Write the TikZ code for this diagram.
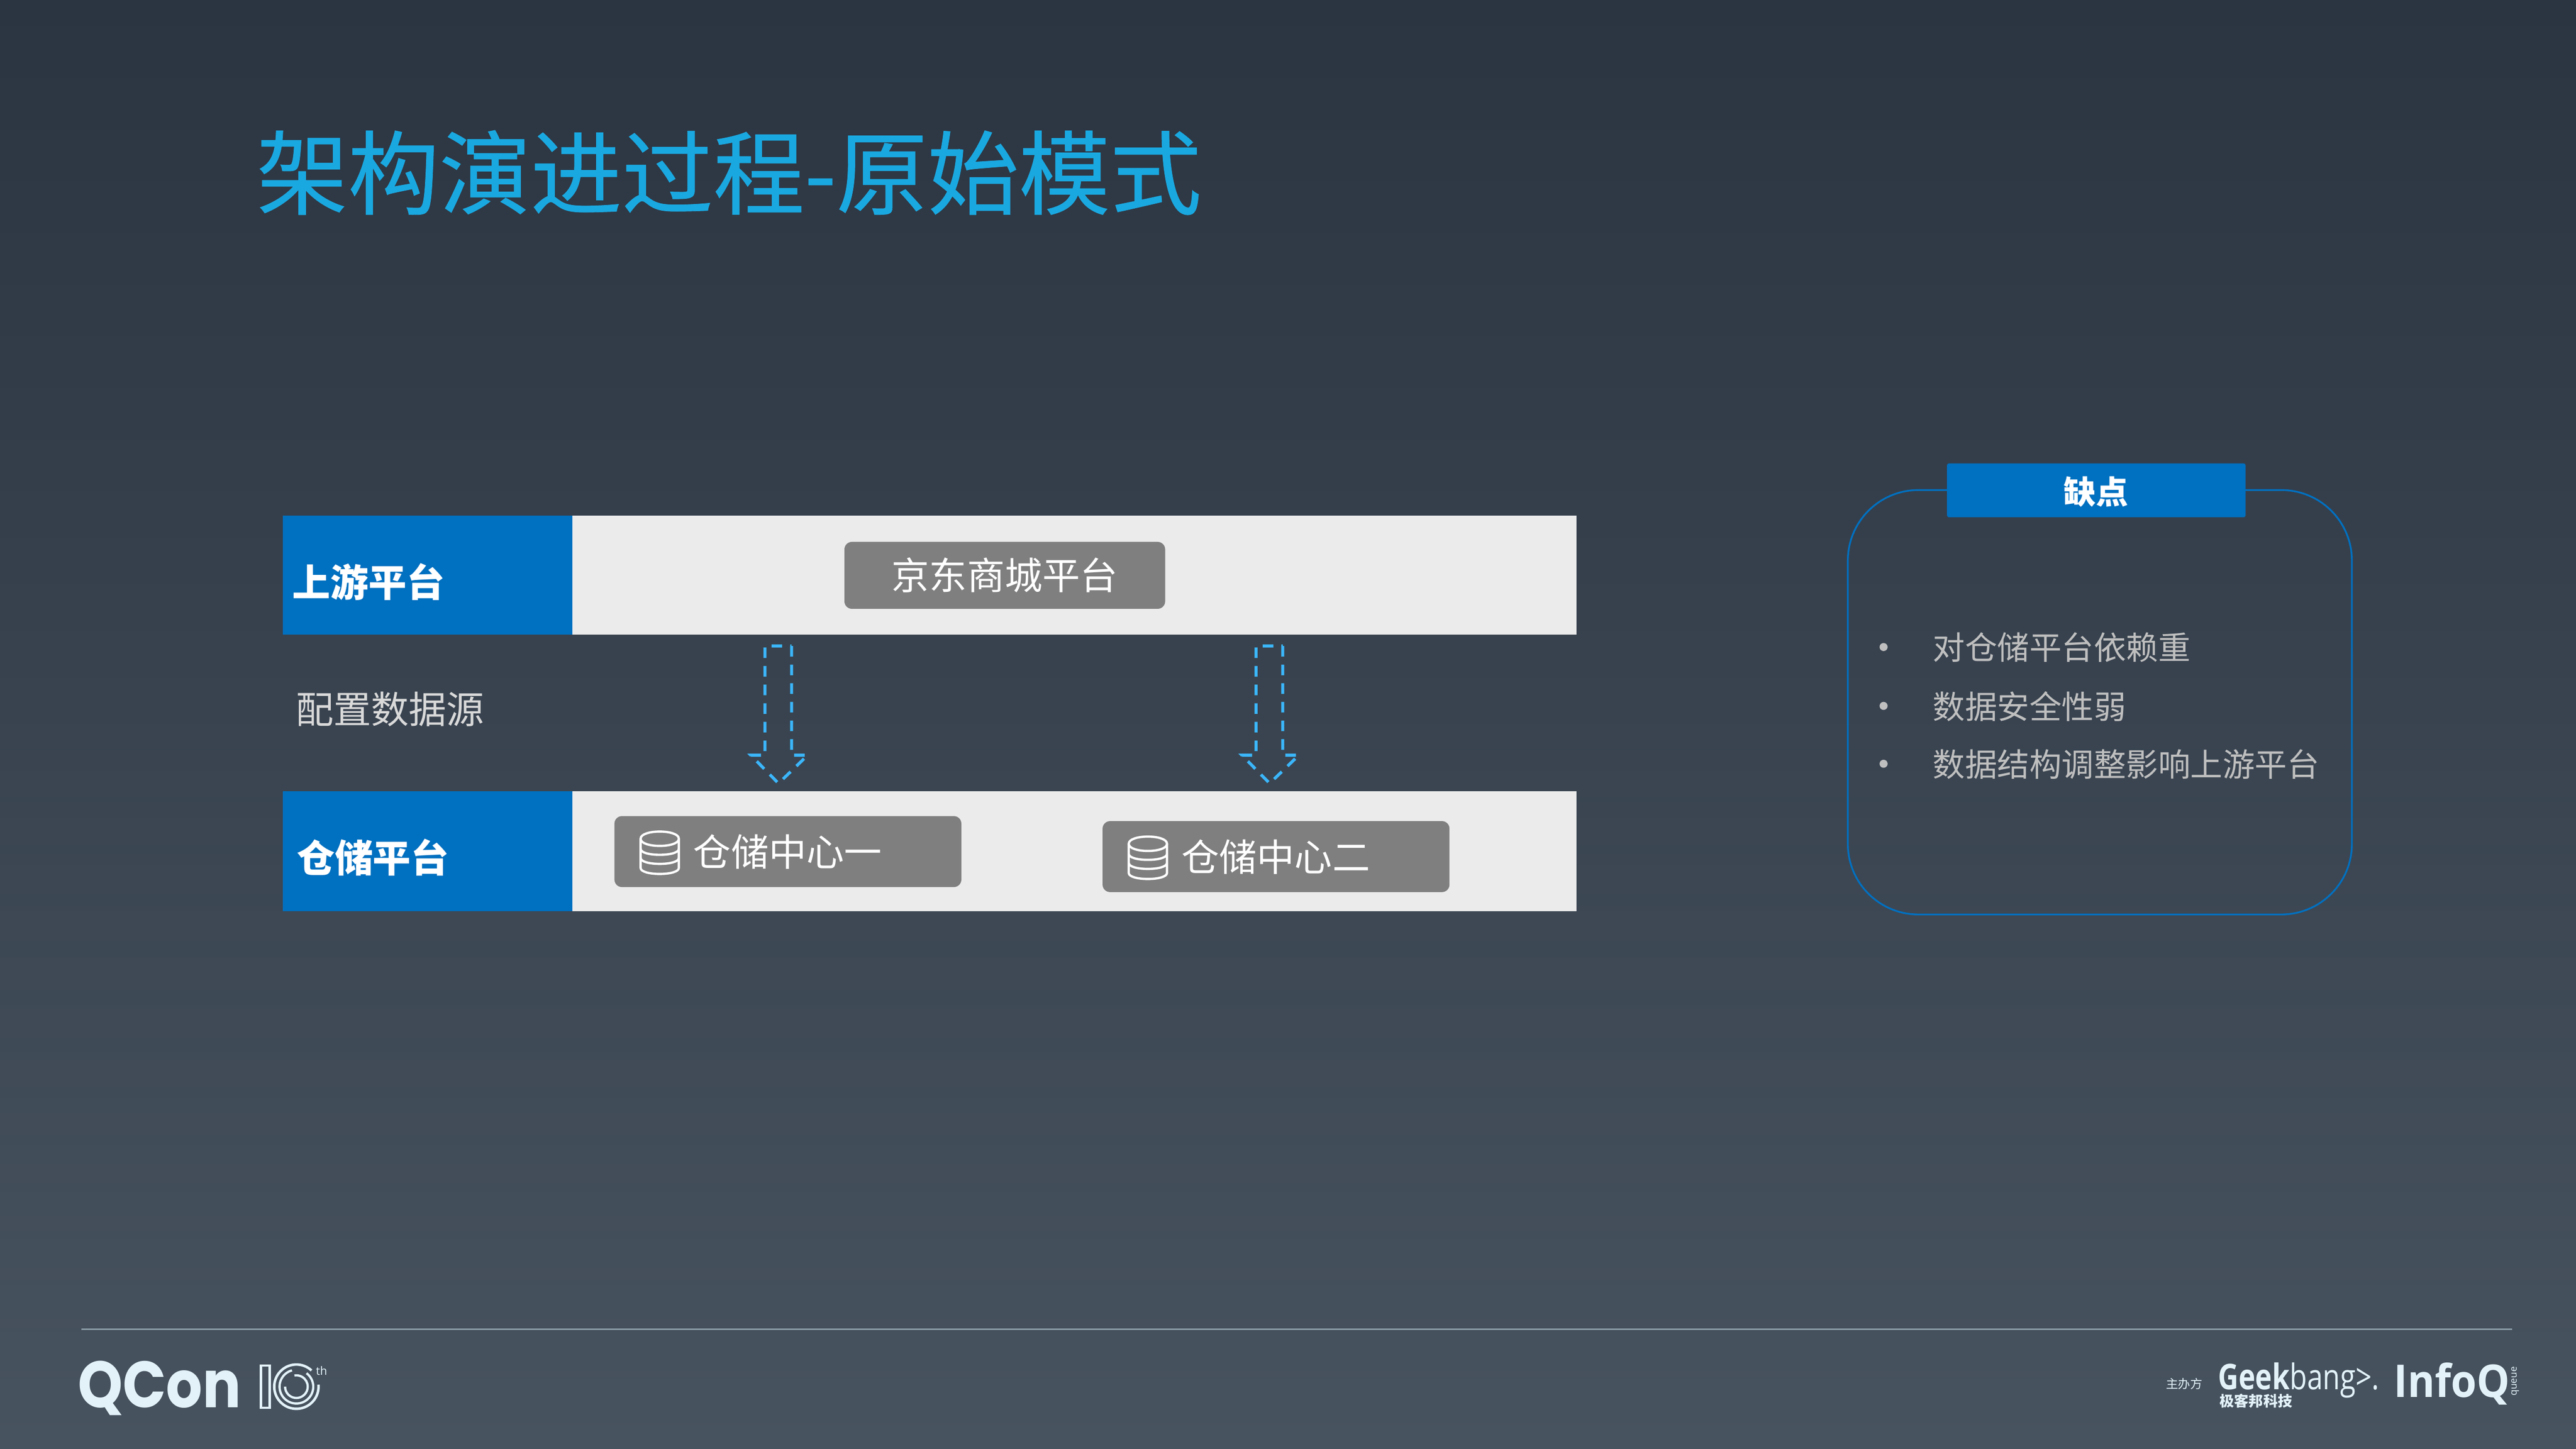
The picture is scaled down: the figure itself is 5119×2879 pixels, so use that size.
\documentclass[tikz,border=0pt]{standalone}
\usepackage{fontspec}
\setmainfont{Noto Sans CJK SC}
\newfontfamily\logofont{Poppins}
\newfontfamily\logosans{Open Sans}
\usetikzlibrary{positioning,calc}
\definecolor{bgtop}{HTML}{2B3441}
\definecolor{bgbot}{HTML}{47535F}
\definecolor{titleblue}{HTML}{1AA8E0}
\definecolor{barblue}{HTML}{0070C0}
\definecolor{bargrey}{HTML}{EBEBEB}
\definecolor{boxgrey}{HTML}{7F7F7F}
\definecolor{arrowblue}{HTML}{3BB6FB}
\definecolor{softtext}{HTML}{BFBFBF}
\definecolor{labeltext}{HTML}{D9D9D9}
\definecolor{rulecol}{HTML}{8A9BA5}
\definecolor{logocol}{HTML}{E3F2F9}
\newcommand{\fs}[1]{\fontsize{#1pt}{#1pt}\selectfont}
\tikzset{
  every node/.style={inner sep=0pt,outer sep=0pt},
  bar/.style={fill=bargrey,draw=none,anchor=north west,minimum width=25.69cm},
  bluelabel/.style={fill=barblue,draw=none,anchor=north west,minimum width=5.75cm},
  greybox/.style={fill=boxgrey,draw=none,rounded corners=0.15cm,anchor=north west},
  boldlabel/.style={text=white,font=\bfseries\fs{21.5},anchor=west},
  boxtext/.style={text=white,font=\fs{21.3},anchor=west},
  bullettext/.style={text=softtext,font=\fs{18.2},anchor=west},
  bulletdot/.style={circle,fill=softtext,minimum size=0.16cm},
  blockarrow/.style={draw=arrowblue,line width=0.06cm,dash pattern=on 0.21cm off 0.16cm,miter limit=10},
  dbicon/.style={draw=white,line width=0.045cm},
  ringmark/.style={draw=logocol,line width=0.045cm},
  logotext/.style={text=logocol,anchor=base west},
}
\begin{document}
\begin{tikzpicture}[x=0.01cm,y=-0.01cm]
\useasboundingbox (0,0) rectangle (5119,2879);
\shade[top color=bgtop,bottom color=bgbot,shading angle=0] (0,0) rectangle (5119,2879);

% title
\node[anchor=west,text=titleblue,font=\addfontfeature{FakeBold=0.5}\fs{51.6}] (title) at (510,343) {架构演进过程-原始模式};

% upper bar
\node[bar,minimum height=2.36cm] (upbar) at (562,1025) {};
\node[bluelabel,minimum height=2.36cm] (upblue) at (562,1025) {};
\node[boldlabel] (uplabel) at (581,1156) {上游平台};
\node[greybox,minimum width=6.37cm,minimum height=1.33cm] (jdbox) at (1678,1077) {};
\node[text=white,font=\fs{21.3}] (jdtext) at (jdbox.center) {京东商城平台};

% middle label
\node[anchor=west,text=labeltext,font=\fs{21.3}] (midlabel) at (588,1410) {配置数据源};

% lower bar
\node[bar,minimum height=2.38cm] (lowbar) at (562,1573) {};
\node[bluelabel,minimum height=2.38cm] (lowblue) at (562,1573) {};
\node[boldlabel] (lowlabel) at (590,1704) {仓储平台};

% warehouse boxes
\node[greybox,minimum width=6.89cm,minimum height=1.41cm] (wh1) at (1221,1622) {};
\node[boxtext] (wh1text) at (1378,1693) {仓储中心一};
\node[greybox,minimum width=6.89cm,minimum height=1.41cm] (wh2) at (2191,1632) {};
\node[boxtext] (wh2text) at (2348,1703) {仓储中心二};

% database icons
\foreach \ox/\oy in {0/0,970/10}{
\begin{scope}[shift={(\ox,\oy)}]
  \draw[dbicon] (1273,1667) .. controls (1273,1648) and (1349,1648) .. (1349,1667)
     .. controls (1349,1686) and (1273,1686) .. cycle;
  \draw[dbicon] (1273,1667) -- (1273,1725) .. controls (1273,1741) and (1349,1741) .. (1349,1725) -- (1349,1667);
  \draw[dbicon] (1273,1687) .. controls (1273,1703) and (1349,1703) .. (1349,1687);
  \draw[dbicon] (1273,1705) .. controls (1273,1721) and (1349,1721) .. (1349,1705);
\end{scope}}

% block arrows
\foreach \ox in {0,976}{
\begin{scope}[shift={(\ox,0)}]
  \draw[blockarrow] (1573,1284) -- (1573,1501) -- (1605,1501) -- (1547,1557) -- (1492,1501) -- (1520,1501) -- (1520,1284) -- (1573,1284);
\end{scope}}

% drawbacks panel
\node[draw=barblue,line width=0.035cm,rounded corners=1.4cm,anchor=north west,minimum width=10.01cm,minimum height=8.43cm] (panel) at (3672,974) {};
\node[fill=barblue,rounded corners=0.04cm,anchor=north west,minimum width=5.93cm,minimum height=1.07cm] (panelhead) at (3869,921) {};
\node[text=white,font=\bfseries\fs{18.2}] (paneltitle) at (4165,977) {缺点};

\node[bulletdot] (b1) at (3743,1286) {};
\node[bullettext] (t1) at (3841,1287) {对仓储平台依赖重};
\node[bulletdot] (b2) at (3743,1403) {};
\node[bullettext] (t2) at (3841,1404) {数据安全性弱};
\node[bulletdot] (b3) at (3743,1518) {};
\node[bullettext] (t3) at (3841,1519) {数据结构调整影响上游平台};

% footer rule
\coordinate (ruleL) at (162,2642);
\coordinate (ruleR) at (4992,2642);
\draw[rulecol,line width=0.035cm] (ruleL) -- (ruleR);

% QCon logo
\node[logotext,font=\logofont\bfseries\fs{37}] (qcon) at (155,2798) {\scalebox{0.87}[1]{QCon}};
\node[draw=logocol,line width=0.05cm,anchor=north west,minimum width=0.17cm,minimum height=0.84cm] (tenbar) at (519,2714) {};
\coordinate (ring) at (589,2756);
\draw[ringmark,line width=0.05cm] ([shift={(47:0.44cm)}]ring) arc[start angle=47,end angle=365,radius=0.44cm];
\draw[ringmark] ([shift={(105:0.335cm)}]ring) arc[start angle=105,end angle=413,radius=0.335cm];
\draw[ringmark] ([shift={(180:0.225cm)}]ring) arc[start angle=180,end angle=460,radius=0.225cm];
\node[text=logocol,anchor=west,font=\logosans\fs{6.5}] (th) at (628,2724) {th};

% sponsor logos
\node[text=logocol,anchor=west,font=\fs{6.9}] (host) at (4304,2750) {主办方};
\node[logotext,font=\logosans\fs{20}] (geek) at (4408,2762) {\scalebox{0.8}[1]{\bfseries Geek\mdseries bang>.}};
\node[text=logocol,anchor=west,font=\bfseries\fs{8.2}] (geekcn) at (4411,2784) {极客邦科技};
\node[logotext,font=\logosans\bfseries\fs{25.5}] (infoq) at (4757,2777) {\scalebox{0.92}[1]{InfoQ}};
\node[text=logocol,rotate=90,font=\logosans\fs{5.5}] (queue) at (4998,2745) {queue};
\end{tikzpicture}
\end{document}
